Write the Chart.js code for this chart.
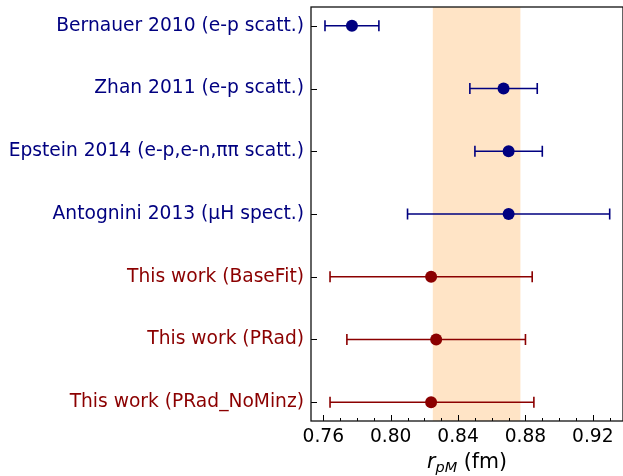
<!DOCTYPE html>
<html><head><meta charset="utf-8">
<script src="https://cdn.jsdelivr.net/npm/chart.js@4/dist/chart.umd.min.js"></script>
<style>html,body{margin:0;padding:0;background:#fff;}</style>
</head><body>
<canvas id="c" width="623" height="476"></canvas>
<script>
const labels = ['Bernauer 2010 (e-p scatt.)','Zhan 2011 (e-p scatt.)','Epstein 2014 (e-p,e-n,\u03c0\u03c0 scatt.)','Antognini 2013 (\u03bcH spect.)','This work (BaseFit)','This work (PRad)','This work (PRad_NoMinz)'];
const values = [0.777, 0.867, 0.870, 0.870, 0.824, 0.827, 0.824];
const errLow = [0.016, 0.020, 0.020, 0.060, 0.060, 0.053, 0.060];
const errHigh = [0.016, 0.020, 0.020, 0.060, 0.060, 0.053, 0.061];
const groups = ['ref','ref','ref','ref','this','this','this'];
const band = [0.825, 0.877];
const xTicks = [0.76, 0.80, 0.84, 0.88, 0.92];
const xMinorTicks = [0.76,0.77,0.78,0.79,0.80,0.81,0.82,0.83,0.84,0.85,0.86,0.87,0.88,0.89,0.90,0.91,0.92,0.93];
const xRange = [0.7527, 0.9379];
const yRange = [-0.3, 6.3];

const groupColor = {ref: '#000080', 'this': '#8b0000'};
const colors = groups.map(g => groupColor[g]);
const FONT = '"DejaVu Sans", sans-serif';

const bandPlugin = {
  id: 'band',
  beforeDatasetsDraw(chart) {
    const {ctx, chartArea: a, scales: {x}} = chart;
    const x0 = x.getPixelForValue(band[0]), x1 = x.getPixelForValue(band[1]);
    ctx.save();
    ctx.fillStyle = '#ffe4c6';
    ctx.fillRect(x0, a.top, x1 - x0, a.bottom - a.top);
    ctx.restore();
  }
};

const errPlugin = {
  id: 'err',
  beforeDatasetsDraw(chart) {
    const {ctx, scales: {x, y}} = chart;
    ctx.save();
    ctx.lineWidth = 1.6;
    values.forEach((v, i) => {
      const py = y.getPixelForValue(i);
      const xl = x.getPixelForValue(v - errLow[i]);
      const xr = x.getPixelForValue(v + errHigh[i]);
      ctx.strokeStyle = colors[i];
      ctx.beginPath();
      ctx.moveTo(xl, py); ctx.lineTo(xr, py);
      ctx.moveTo(xl, py - 5.5); ctx.lineTo(xl, py + 5.5);
      ctx.moveTo(xr, py - 5.5); ctx.lineTo(xr, py + 5.5);
      ctx.stroke();
    });
    ctx.restore();
  }
};

const framePlugin = {
  id: 'frame',
  afterDraw(chart) {
    const {ctx, chartArea: a, scales: {x, y}} = chart;
    ctx.save();
    ctx.strokeStyle = '#000';
    ctx.lineWidth = 1;
    ctx.beginPath();
    xTicks.forEach(t => { const px = Math.round(x.getPixelForValue(t)) + 0.5; ctx.moveTo(px, a.bottom); ctx.lineTo(px, a.bottom - 6); });
    xMinorTicks.forEach(t => { if (xTicks.some(m => Math.abs(m - t) < 1e-9)) return; const px = Math.round(x.getPixelForValue(t)) + 0.5; ctx.moveTo(px, a.bottom); ctx.lineTo(px, a.bottom - 3); });
    labels.forEach((l, i) => { const py = Math.round(y.getPixelForValue(i)) + 0.5; ctx.moveTo(a.left, py); ctx.lineTo(a.left + 6, py); });
    ctx.stroke();
    ctx.lineWidth = 1.3;
    ctx.strokeStyle = '#111';
    ctx.strokeRect(a.left, a.top, a.right - a.left, a.bottom - a.top);
    // axis title r_pM (fm)
    const big = 20.5, small = 14.5;
    const fBig = 'italic ' + big + 'px ' + FONT;
    const fSmall = 'italic ' + small + 'px ' + FONT;
    const fNorm = big + 'px ' + FONT;
    ctx.textBaseline = 'alphabetic';
    ctx.fillStyle = '#000';
    ctx.font = fBig; const w1 = ctx.measureText('r').width;
    ctx.font = fSmall; const w2 = ctx.measureText('pM').width;
    ctx.font = fNorm; const w3 = ctx.measureText(' (fm)').width;
    const total = w1 + w2 + w3;
    let cx = (a.left + a.right) / 2 - total / 2;
    const base = 468;
    ctx.font = fBig; ctx.fillText('r', cx, base); cx += w1;
    ctx.font = fSmall; ctx.fillText('pM', cx, base + 4); cx += w2;
    ctx.font = fNorm; ctx.fillText(' (fm)', cx, base);
    ctx.restore();
  }
};

new Chart(document.getElementById('c'), {
  type: 'scatter',
  data: {
    datasets: [{
      data: values.map((v, i) => ({x: v, y: i})),
      pointBackgroundColor: colors,
      pointBorderWidth: 0,
      pointRadius: 6,
      pointHoverRadius: 6
    }]
  },
  options: {
    responsive: false,
    animation: false,
    devicePixelRatio: 1,
    layout: {autoPadding: false, padding: {top: 7, right: 0, left: 0, bottom: 0}},
    plugins: {legend: {display: false}, tooltip: {enabled: false}},
    scales: {
      x: {
        type: 'linear', min: xRange[0], max: xRange[1],
        afterBuildTicks: s => { s.ticks = xTicks.map(v => ({value: v})); },
        afterFit: s => { s.height = 55; s.paddingLeft = 0; s.paddingRight = 0; },
        grid: {display: false, drawTicks: false},
        border: {display: false},
        ticks: {font: {family: FONT, size: 18.67}, color: '#000', padding: 5, maxRotation: 0, autoSkip: false,
          callback: v => v.toFixed(2)}
      },
      y: {
        type: 'linear', reverse: true, min: yRange[0], max: yRange[1],
        afterBuildTicks: s => { s.ticks = labels.map((l, i) => ({value: i})); },
        afterFit: s => { s.width = 311; s.paddingTop = 0; s.paddingBottom = 0; },
        grid: {display: false, drawTicks: false},
        border: {display: false},
        ticks: {font: {family: FONT, size: 18.67}, padding: 7, autoSkip: false,
          color: c => colors[c.tick ? c.tick.value : c.index],
          callback: v => labels[v]}
      }
    }
  },
  plugins: [bandPlugin, errPlugin, framePlugin]
});
</script>
</body></html>
